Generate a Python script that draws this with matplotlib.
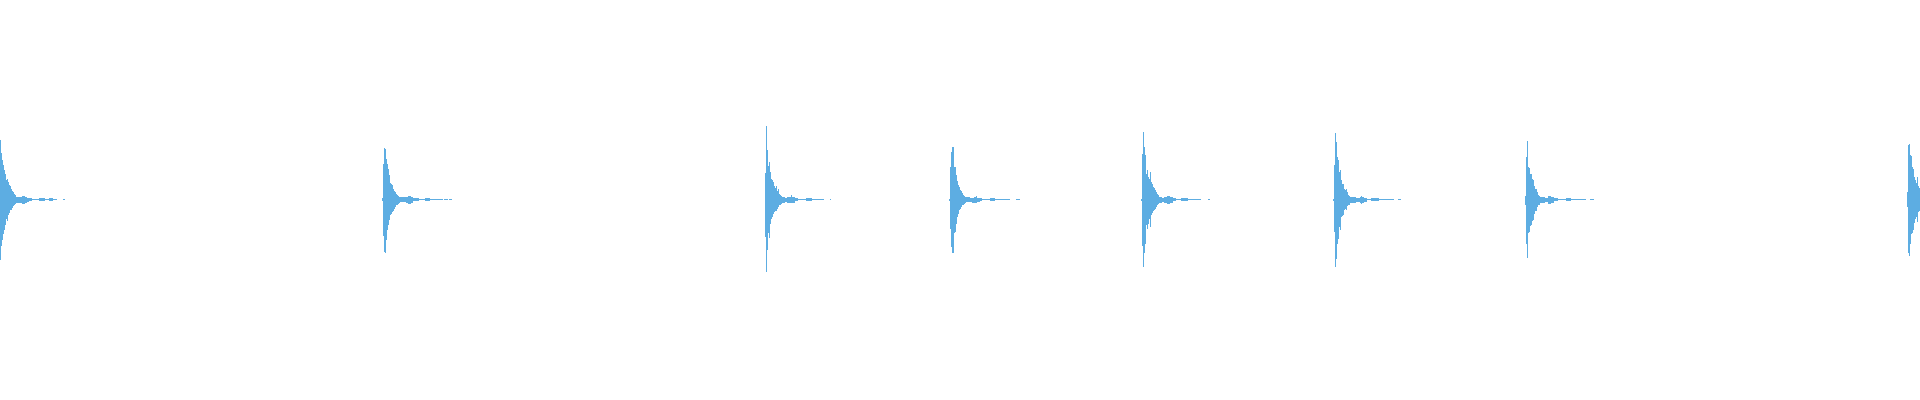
import numpy as np
import matplotlib
matplotlib.use("Agg")
import matplotlib.pyplot as plt

nan = np.nan
flat = 0.0025  # the thin 1px line left at the end of every hit

# onset column of every hit (1920 columns across the whole clip)
onsets = [0, 382, 765, 949, 1141, 1333, 1525, 1907]

# peak (top) and trough (bottom) amplitude per column
hit1_top = [0.298, 0.235, 0.200, 0.173, 0.148, 0.128, 0.100, 0.105, 0.090, 0.073,
            0.068, 0.055, 0.043, 0.040, 0.030, 0.023, 0.015, 0.015, 0.015, 0.013,
            0.013, 0.013, 0.018, 0.018, 0.018, 0.015, 0.015, 0.010, 0.010, 0.008,
            0.008, 0.008] + [flat]*7 + [0.009]*6 + [flat]*4 + [0.006]*4 + [flat]*4 + [nan]*6 + [flat]*2
hit1_bot = [-0.303, -0.233, -0.203, -0.173, -0.150, -0.128, -0.095, -0.105, -0.078, -0.065,
            -0.053, -0.050, -0.040, -0.033, -0.025, -0.020, -0.015, -0.015, -0.015, -0.015,
            -0.015, -0.015, -0.020, -0.020, -0.020, -0.015, -0.015, -0.010, -0.010, -0.008,
            -0.008, -0.008] + [-flat]*7 + [-0.006]*6 + [-flat]*4 + [-0.006]*4 + [-flat]*4 + [nan]*6 + [-flat]*2

hit2_top = [0.010, 0.180, 0.260, 0.255, 0.205, 0.180, 0.155, 0.123, 0.085, 0.080,
            0.073, 0.055, 0.045, 0.040, 0.030, 0.025, 0.020, 0.015] + [0.015]*6 + \
           [0.015, 0.015, 0.020, 0.020, 0.020, 0.015, 0.015] + [0.008]*6 + [flat]*6 + \
           [0.009]*5 + [flat]*13 + [nan] + [flat]*4 + [nan] + [flat]*3
hit2_bot = [-0.005, -0.183, -0.260, -0.265, -0.203, -0.153, -0.128, -0.103, -0.078, -0.070,
            -0.060, -0.055, -0.045, -0.035, -0.028, -0.025, -0.020, -0.015] + [-0.013]*6 + \
           [-0.015, -0.015, -0.020, -0.020, -0.020, -0.015, -0.015] + [-0.005]*6 + [-flat]*6 + \
           [-0.006]*5 + [-flat]*13 + [nan] + [-flat]*4 + [nan] + [-flat]*3

hit3_top = [0.135, 0.365, 0.250, 0.168, 0.190, 0.140, 0.105, 0.098, 0.090, 0.070,
            0.060, 0.070, 0.045, 0.055, 0.030, 0.025, 0.020] + [0.015]*3 + [0.010]*2 + \
           [0.015]*4 + [0.025] + [0.015]*3 + [0.009]*3 + [flat]*8 + [0.009]*6 + \
           [flat]*12 + [nan]*6 + [flat]
hit3_bot = [-0.185, -0.360, -0.253, -0.165, -0.190, -0.120, -0.095, -0.085, -0.070, -0.060,
            -0.055, -0.055, -0.045, -0.038, -0.028, -0.025, -0.020] + [-0.015]*3 + [-0.010]*2 + \
           [-0.015]*4 + [-0.015] + [-0.015]*3 + [-0.006]*3 + [-flat]*8 + [-0.006]*6 + \
           [-flat]*12 + [nan]*6 + [-flat]

hit4_top = [0.005, 0.165, 0.238, 0.263, 0.265, 0.163, 0.163, 0.123, 0.095, 0.073,
            0.065, 0.050, 0.045, 0.035, 0.025, 0.020, 0.015] + [0.013]*4 + [0.010]*4 + \
           [0.015]*2 + [0.020] + [0.010]*3 + [0.009]*2 + [flat]*8 + [0.006]*5 + \
           [flat]*15 + [nan]*6 + [flat]*4
hit4_bot = [-0.005, -0.148, -0.235, -0.265, -0.265, -0.165, -0.160, -0.120, -0.085, -0.073,
            -0.053, -0.045, -0.038, -0.028, -0.025, -0.020, -0.015] + [-0.013]*4 + \
           [-0.013, -0.013, -0.015, -0.015] + [-0.015]*2 + [-0.015] + [-0.013]*3 + [-0.006]*2 + \
           [-flat]*8 + [-0.006]*5 + [-flat]*15 + [nan]*6 + [-flat]*4

hit5_top = [0.005, 0.228, 0.338, 0.265, 0.225, 0.130, 0.148, 0.115, 0.105, 0.140,
            0.090, 0.078, 0.065, 0.060, 0.048, 0.040, 0.030, 0.023] + [0.015]*3 + [0.010]*2 + \
           [0.015]*3 + [0.020]*3 + [0.015]*3 + [0.009]*3 + [flat]*5 + [0.009]*7 + \
           [flat]*13 + [nan]*7 + [flat]*2
hit5_bot = [-0.005, -0.233, -0.338, -0.268, -0.220, -0.128, -0.148, -0.120, -0.095, -0.135,
            -0.078, -0.065, -0.058, -0.053, -0.045, -0.038, -0.028, -0.020] + [-0.015]*3 + [-0.010]*2 + \
           [-0.015]*3 + [-0.020]*3 + [-0.015]*3 + [-0.006]*3 + [-flat]*5 + [-0.006]*7 + \
           [-flat]*13 + [nan]*7 + [-flat]*2

hit6_top = [0.005, 0.175, 0.333, 0.290, 0.215, 0.198, 0.140, 0.148, 0.098, 0.078,
            0.078, 0.055, 0.050, 0.055, 0.040, 0.025, 0.020] + [0.015]*3 + [0.013]*3 + \
           [0.010]*4 + [0.015, 0.020, 0.015, 0.015] + [0.010]*3 + [flat]*4 + [0.009]*8 + \
           [flat]*15 + [nan]*4 + [flat]*3
hit6_bot = [-0.005, -0.160, -0.335, -0.295, -0.220, -0.195, -0.135, -0.150, -0.085, -0.080,
            -0.075, -0.053, -0.045, -0.050, -0.033, -0.028, -0.025] + [-0.015]*3 + [-0.015]*3 + \
           [-0.013]*4 + [-0.015, -0.020, -0.015, -0.015] + [-0.010]*3 + [-flat]*4 + [-0.006]*8 + \
           [-flat]*15 + [nan]*4 + [-flat]*3

hit7_top = [0.020, 0.213, 0.295, 0.165, 0.160, 0.130, 0.128, 0.105, 0.100, 0.070,
            0.055, 0.055, 0.040, 0.025, 0.020] + [0.015]*3 + [0.013]*2 + [0.010]*3 + \
           [0.020]*3 + [0.015]*3 + [0.009]*4 + [flat]*8 + [0.009]*5 + [flat]*15 + \
           [nan]*4 + [flat]*4
hit7_bot = [-0.025, -0.220, -0.290, -0.165, -0.160, -0.133, -0.128, -0.105, -0.100, -0.070,
            -0.058, -0.055, -0.038, -0.028, -0.025] + [-0.015]*3 + [-0.015]*2 + [-0.013]*3 + \
           [-0.020]*3 + [-0.015]*3 + [-0.006]*4 + [-flat]*8 + [-0.006]*5 + [-flat]*15 + \
           [nan]*4 + [-flat]*4

hit8_top = [0.040, 0.273, 0.280, 0.223, 0.218, 0.165, 0.155, 0.115, 0.098, 0.085, 0.115, 0.070, 0.060]
hit8_bot = [-0.035, -0.265, -0.280, -0.220, -0.173, -0.165, -0.150, -0.115, -0.095, -0.085, -0.110, -0.060, -0.055]

tops = [hit1_top, hit2_top, hit3_top, hit4_top, hit5_top, hit6_top, hit7_top, hit8_top]
bots = [hit1_bot, hit2_bot, hit3_bot, hit4_bot, hit5_bot, hit6_bot, hit7_bot, hit8_bot]

WAVE_COLOR = "#5DADE2"


def drawHit(ax, onset, top, bot):
    top, bot = np.array(top), np.array(bot)
    cols = onset + np.arange(len(top))
    ok = np.isfinite(top) & np.isfinite(bot)
    ax.bar(cols[ok], top[ok] - bot[ok], bottom=bot[ok], width=1, align="edge",
           color=WAVE_COLOR, linewidth=0)


fig = plt.figure(figsize=(19.2, 4), dpi=100)
ax = fig.add_axes([0, 0, 1, 1])
for onset, top, bot in zip(onsets, tops, bots):
    drawHit(ax, onset, top, bot)

ax.set_xlim(0, 1920)
ax.set_ylim(-1.0025, 0.9975)
ax.axis("off")
fig.savefig("out.png", dpi=100, facecolor="white")
